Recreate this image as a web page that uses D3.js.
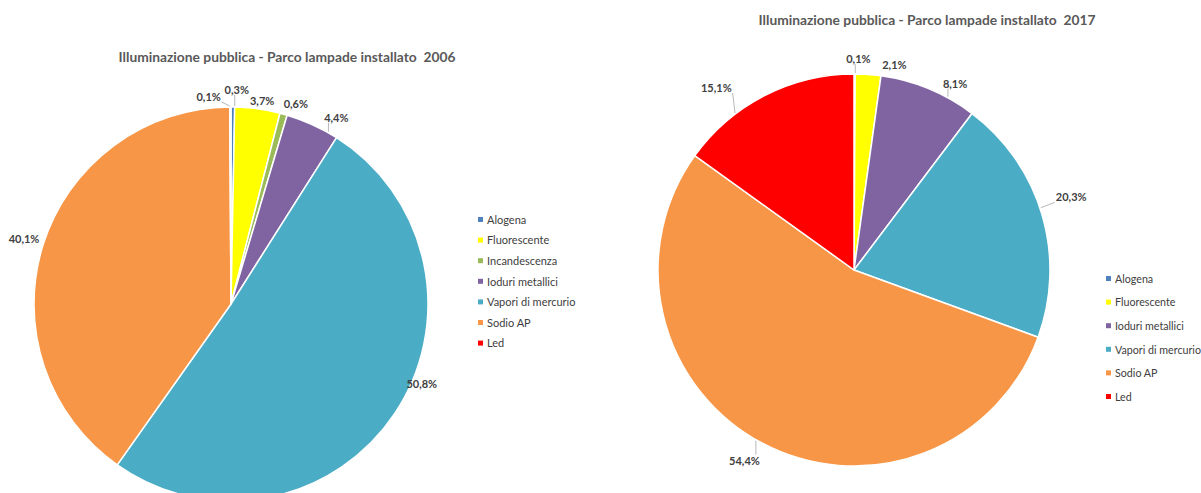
<!DOCTYPE html>
<html><head><meta charset="utf-8">
<script src="https://cdn.jsdelivr.net/npm/d3@7"></script>
<style>
html,body{margin:0;padding:0;background:#fff;}
svg{display:block;font-family:Lato,"Open Sans",sans-serif;}
text{white-space:pre;}
</style></head>
<body>
<svg id="c" width="1201" height="493"></svg>
<script>
// ---- data ----
const categories2006 = ["Alogena","Fluorescente","Incandescenza","Ioduri metallici","Vapori di mercurio","Sodio AP","Led"];
const values2006 = [0.3, 3.7, 0.6, 4.4, 50.8, 40.1, 0.1];
const labels2006 = ["0,3%","3,7%","0,6%","4,4%","50,8%","40,1%","0,1%"];
const categories2017 = ["Alogena","Fluorescente","Ioduri metallici","Vapori di mercurio","Sodio AP","Led"];
const values2017 = [0.1, 2.1, 8.1, 20.3, 54.4, 15.1];
const labels2017 = ["0,1%","2,1%","8,1%","20,3%","54,4%","15,1%"];
const title2006 = "Illuminazione pubblica - Parco lampade installato  2006";
const title2017 = "Illuminazione pubblica - Parco lampade installato  2017";

const colorMap = {
  "Alogena":"#4F81BD","Fluorescente":"#FFFF00","Incandescenza":"#9BBB59",
  "Ioduri metallici":"#8064A2","Vapori di mercurio":"#4BACC6","Sodio AP":"#F79646","Led":"#FF0000"
};

// label placement tweaks (degrees shift from slice mid-angle, distance from centre)
const layout2006 = {cx:231, cy:304, r:197, title:{x:287,y:62},
  legend:{x:478,y:220,step:20.6,fs:11},
  nudge:[1,1,2.5,5,-11,0,-6], dist:[214,205,210,214,207,217,208]};
const layout2017 = {cx:854, cy:270, r:196, title:{x:927,y:25},
  legend:{x:1106,y:279,step:23.6,fs:10.7},
  nudge:[1,7,6,-2,2,-10], dist:[211,209,212,229,220,228]};

const svg = d3.select("#c");

function drawPie(cats, vals, labs, title, L){
  const g = svg.append("g");
  g.append("text").attr("x",L.title.x).attr("y",L.title.y)
    .attr("text-anchor","middle").attr("font-size","13.8px").attr("font-weight","bold")
    .attr("fill","#595959").text(title);

  const data = cats.map((c,i)=>({cat:c,v:vals[i],lab:labs[i],i}));
  const pie = d3.pie().value(d=>d.v).sort(null);
  const arcs = pie(data);
  const arc = d3.arc().innerRadius(0).outerRadius(L.r);
  const pg = g.append("g").attr("transform",`translate(${L.cx},${L.cy})`);
  pg.selectAll("path").data(arcs).join("path")
    .attr("d",arc).attr("fill",d=>colorMap[d.data.cat])
    .attr("stroke","#fff").attr("stroke-width",1.5).attr("stroke-linejoin","round");

  // labels
  arcs.forEach((a,k)=>{
    const mid = (a.startAngle+a.endAngle)/2;
    const ang = mid + L.nudge[k]*Math.PI/180;
    const d = L.dist[k];
    const x = d*Math.sin(ang), y = -d*Math.cos(ang);
    const t = pg.append("text").attr("x",x).attr("y",y).attr("dy","0.35em")
      .attr("text-anchor","middle").attr("font-size","11px").attr("font-weight","bold")
      .attr("fill","#404040").text(a.data.lab);
    const bb = t.node().getBBox();
    const clampA = Math.max(a.startAngle, Math.min(a.endAngle, ang));
    const ax = (L.r+1)*Math.sin(clampA), ay = -(L.r+1)*Math.cos(clampA);
    const nx = Math.max(bb.x-1, Math.min(bb.x+bb.width+1, ax));
    const ny = Math.max(bb.y+1, Math.min(bb.y+bb.height-1, ay));
    const len = Math.hypot(nx-ax, ny-ay);
    if(len > 7){
      pg.insert("line","text").attr("x1",ax).attr("y1",ay).attr("x2",nx).attr("y2",ny)
        .attr("stroke","#A6A6A6").attr("stroke-width",0.8);
    }
  });

  // legend
  const lg = g.append("g");
  cats.forEach((c,i)=>{
    const yy = L.legend.y + i*L.legend.step;
    lg.append("rect").attr("x",L.legend.x).attr("y",yy-3).attr("width",5).attr("height",5)
      .attr("fill",colorMap[c]);
    lg.append("text").attr("x",L.legend.x+9).attr("y",yy).attr("dy","0.35em")
      .attr("font-size",L.legend.fs+"px").attr("fill","#404040").text(c);
  });
}

drawPie(categories2006, values2006, labels2006, title2006, layout2006);
drawPie(categories2017, values2017, labels2017, title2017, layout2017);
</script>
</body></html>
